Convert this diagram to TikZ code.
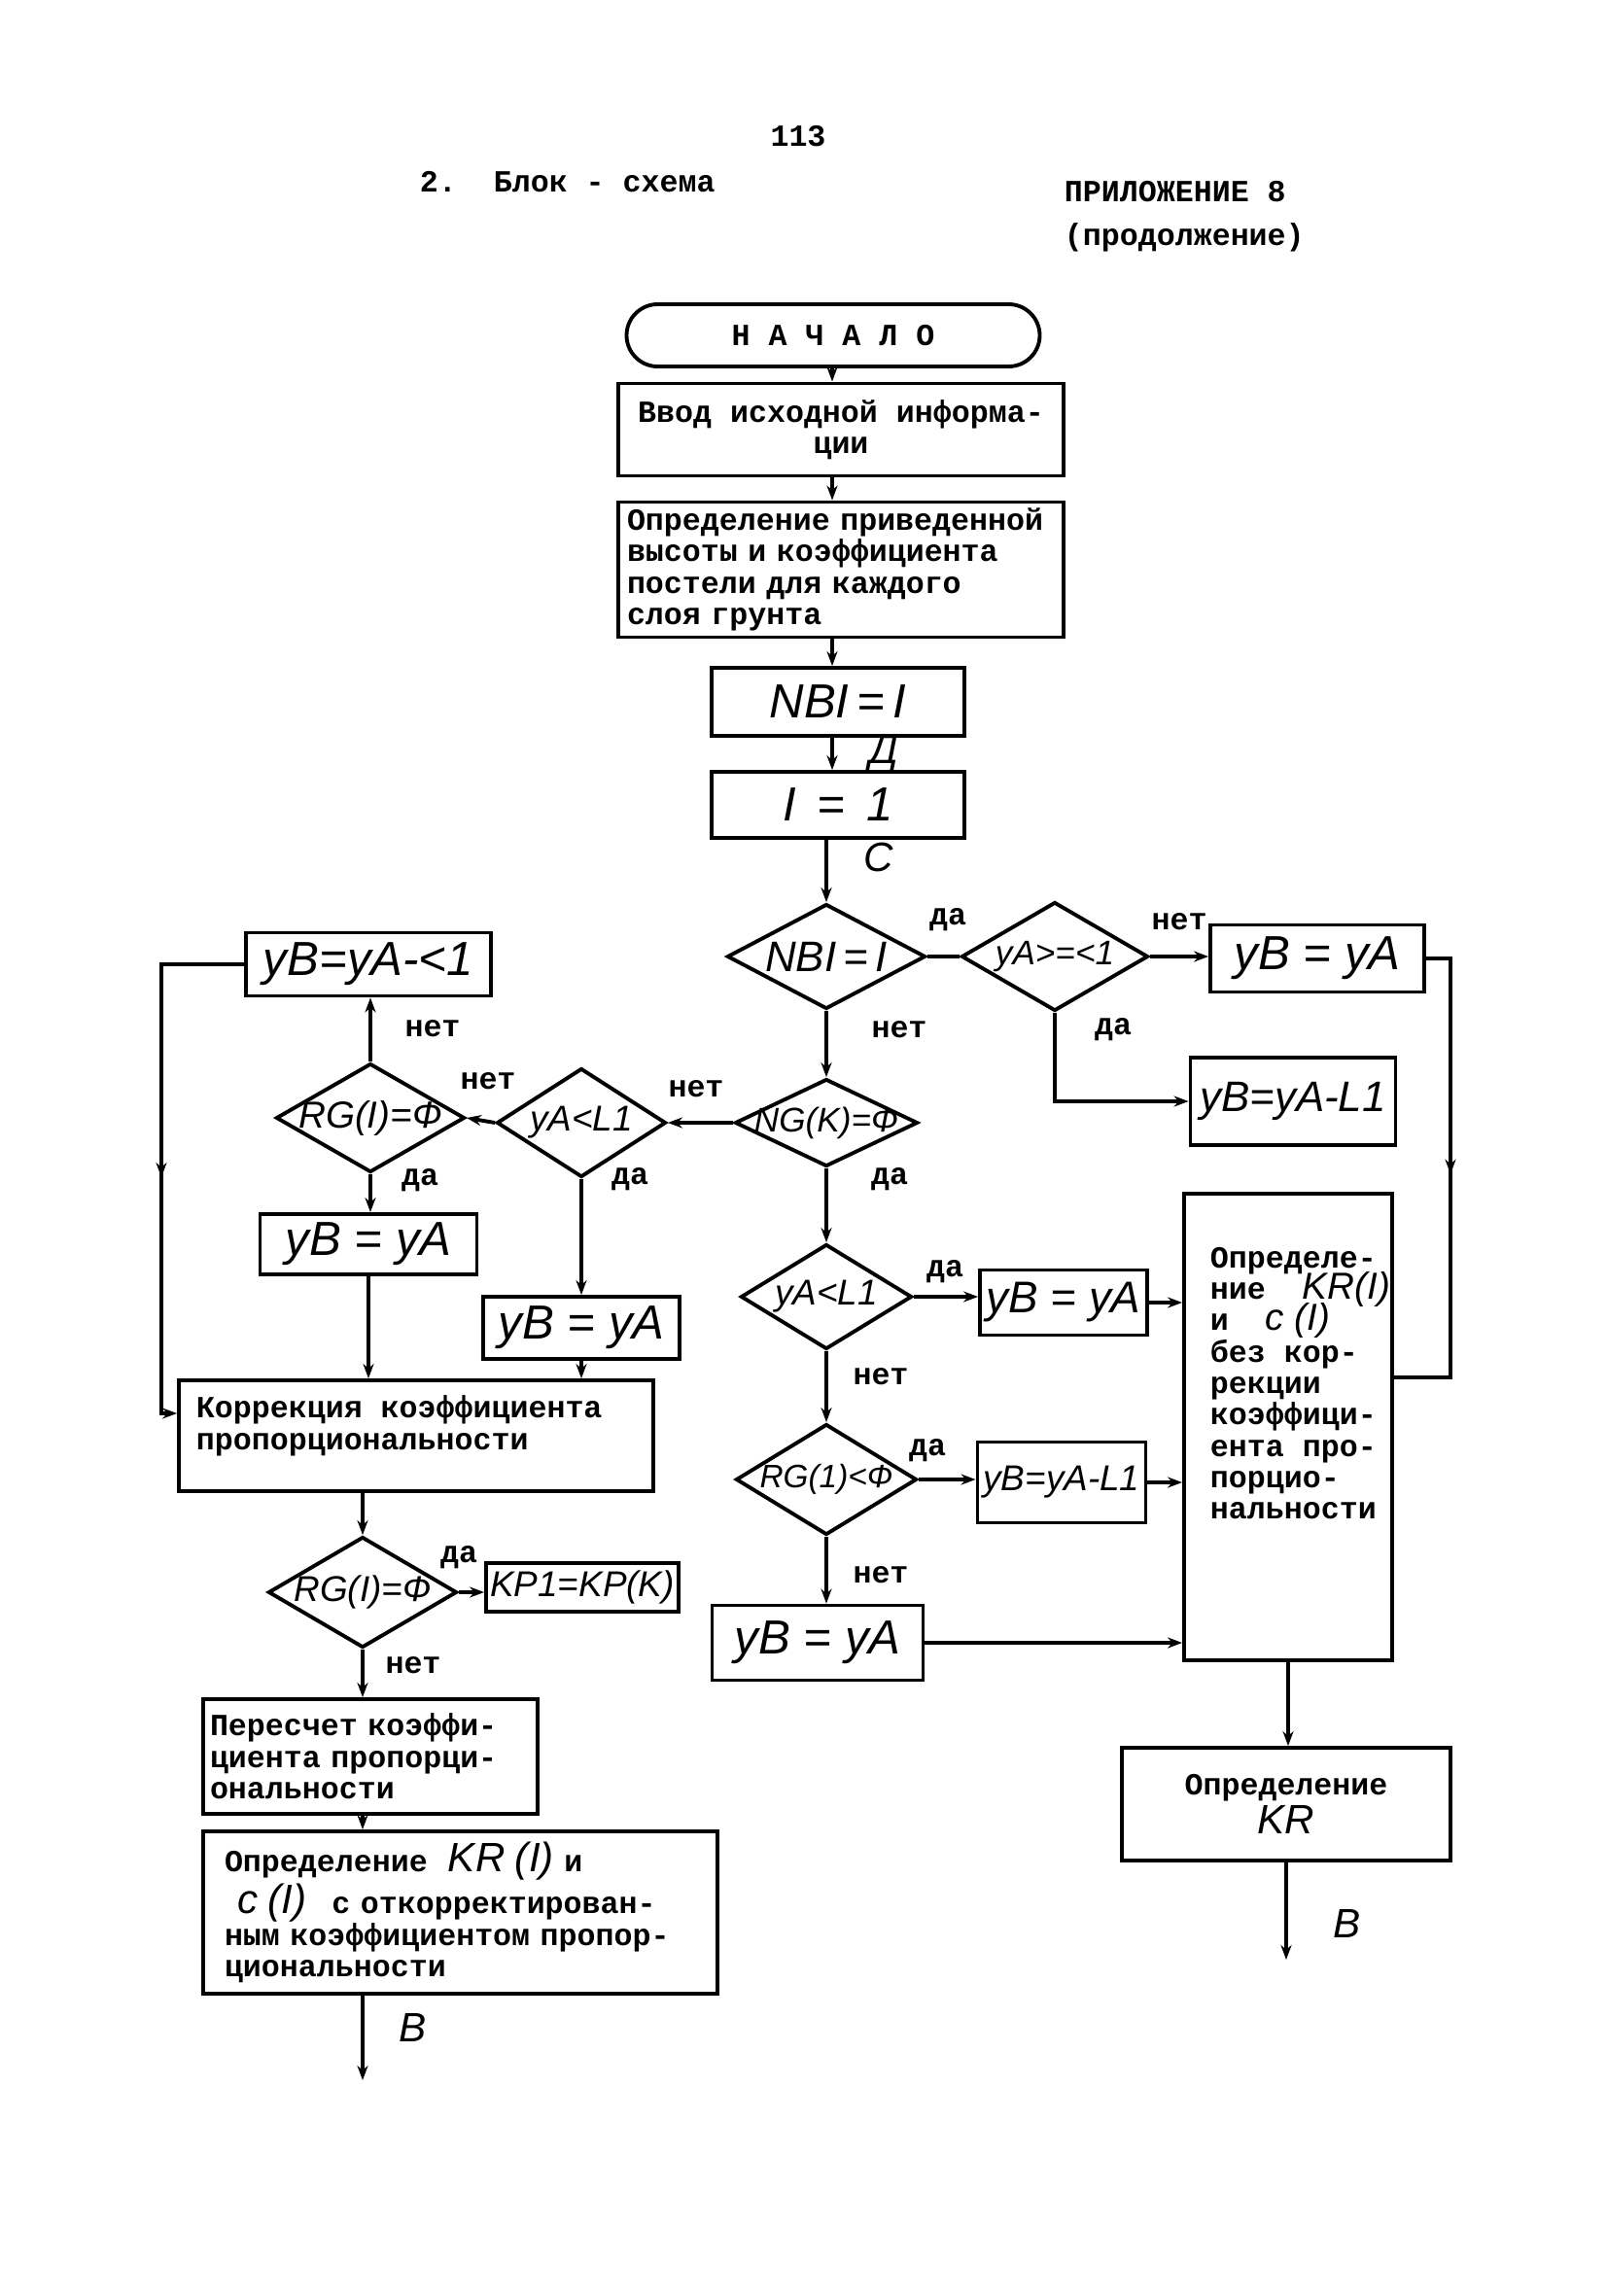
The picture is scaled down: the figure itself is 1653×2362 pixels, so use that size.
\documentclass[tikz,border=0pt]{standalone}
\usepackage{fontspec}
\setmainfont{Liberation Mono}
\newfontfamily\hwfont{Liberation Sans}
\usetikzlibrary{arrows.meta,shapes.geometric,decorations.markings}
\newcommand\hwt[2][11]{{\hwfont\mdseries\itshape\fontsize{#1}{9}\selectfont #2}}
\tikzset{
  tw/.style={font=\bfseries\fontsize{9}{9.2}\selectfont},
  hw/.style={font=\hwfont\itshape\fontsize{#1}{#1}\selectfont},
  box/.style={draw, rectangle, inner sep=0pt},
  dia/.style={draw, diamond, inner sep=0pt},
  arr/.style={-{Stealth[length=1.5mm,width=1.1mm]}},
  midarr/.style={postaction={decorate}, decoration={markings, mark=at position #1 with {\arrow{Stealth[length=1.5mm,width=1.1mm]}}}},
  lbl/.style={font=\bfseries\fontsize{9}{9}\selectfont, inner sep=0pt},
  txt/.style={tw, inner sep=0pt, align=left},
}
\begin{document}
\lineskiplimit=-20pt\relax
\begin{tikzpicture}[x=0.1mm, y=-0.1mm, line width=1.1pt]
\useasboundingbox (0,0) rectangle (1653,2362);

% header
\node[tw] (pg) at (821,140) {113};
\node[tw, anchor=west, inner sep=0pt] (ttl) at (430,187) {2.\ \ Блок - схема};
\node[tw, anchor=west, inner sep=0pt] (app) at (1093,197) {ПРИЛОЖЕНИЕ 8};
\node[tw, anchor=west, inner sep=0pt] (cont) at (1093,244) {(продолжение)};

\coordinate (col) at (856,300);

% top column
\node[draw, rounded corners=3.2mm, minimum width=42.5mm, minimum height=6.4mm, inner sep=0pt, tw] (start) at (857,345) {Н А Ч А Л О\hspace{4.4mm}};
\node[box, tw, minimum width=45.8mm, minimum height=9.5mm, align=center] (b1) at (865,442) {Ввод исходной информа-\\ции};
\node[box, tw, minimum width=45.8mm, minimum height=13.9mm, text width=44mm, align=left] (b2) at (865,586) {Определение приведенной\\высоты и коэффициента\\постели для каждого\\слоя грунта};
\node[box, hw=14, minimum width=26mm, minimum height=7mm] (nbi) at (862,722) {NBI\,=\,I};
\node[box, hw=14, minimum width=26mm, minimum height=6.8mm] (i1) at (862,828) {I\ \,=\ \,1};
\node[hw=12, inner sep=0pt] (lD) at (909,775) {Д};
\node[hw=12, inner sep=0pt] (lC) at (904,882) {С};

% diamonds and boxes, centre / right
\node[dia, minimum width=20.4mm, minimum height=10.8mm, label={[hw=12.5]center:NBI\,=\,I}] (d1) at (850,984) {};
\node[dia, minimum width=19.2mm, minimum height=11.2mm, label={[hw=10]center:yA>=<1}] (d2) at (1085,984) {};
\node[box, hw=14, minimum width=22mm, minimum height=6.9mm] (r1) at (1355,986) {yB = yA};
\node[box, hw=12.5, minimum width=21.1mm, minimum height=9mm] (r2) at (1330,1133) {yB=yA-L1};
\node[dia, minimum width=18.8mm, minimum height=9mm, label={[hw=10]center:NG(K)=Ф}] (d3) at (850,1155) {};
\node[dia, minimum width=17.4mm, minimum height=11.2mm, label={[hw=10.5]center:yA<L1}] (d4) at (598,1155) {};
\node[dia, minimum width=19.4mm, minimum height=11.2mm, label={[hw=11]center:RG(I)=Ф}] (d5) at (381,1150) {};
\node[box, hw=14, minimum width=25.2mm, minimum height=6.5mm] (r3) at (379,992) {yB=yA-<1};
\node[box, hw=14, minimum width=22.3mm, minimum height=6.2mm] (r4) at (379,1280) {yB = yA};
\node[box, hw=14, minimum width=20.2mm, minimum height=6.4mm] (r5) at (598,1366) {yB = yA};
\node[box, minimum width=48.8mm, minimum height=11.4mm] (korr) at (428,1477) {};
\node[txt, anchor=north west] (korrT) at (200,1434) {Коррекция коэффициента\\пропорциональности};
\node[dia, minimum width=19.4mm, minimum height=11.4mm, label={[hw=10.5]center:RG(I)=Ф}] (d6) at (373,1638) {};
\node[box, hw=10.5, minimum width=19.8mm, minimum height=5mm] (r6) at (599,1633) {KP1=KP(K)};
\node[box, tw, minimum width=34.4mm, minimum height=11.8mm, text width=33mm, align=left] (peres) at (381,1807) {Пересчет коэффи-\\циента пропорци-\\ональности};
\node[box, tw, minimum width=52.9mm, minimum height=16.7mm, text width=48.5mm, align=left] (opr1) at (473.5,1967.5) {Определение\ \ \hwt[12]{KR (I)}\ и\\\hspace*{1.3mm}\hwt[12]{c (I)}\hspace{2.6mm}с откорректирован-\\ным коэффициентом пропор-\\циональности};
\coordinate (e1) at (373,2140);
\node[hw=12, inner sep=0pt] (lB1) at (425,2086) {В};

\node[dia, minimum width=17.6mm, minimum height=10.8mm, label={[hw=10.5]center:yA<L1}] (d7) at (850,1334) {};
\node[box, hw=13, minimum width=17.2mm, minimum height=6.7mm] (r7) at (1094,1340) {yB = yA};
\node[dia, minimum width=18.6mm, minimum height=11.4mm, label={[hw=9.5]center:RG(1)<Ф}] (d8) at (850,1522) {};
\node[box, hw=10.5, minimum width=17.3mm, minimum height=8.3mm] (r8) at (1092,1525) {yB=yA-L1};
\node[box, hw=14, minimum width=21.7mm, minimum height=7.7mm] (r9) at (841,1690) {yB = yA};
\node[box, minimum width=21.4mm, minimum height=48mm] (big) at (1325,1468) {};
\node[txt, anchor=north west] (bigT) at (1243,1281) {Определе-\\ние \ \hwt{KR(I)}\\и \ \hwt{c (I)}\\без кор-\\рекции\\коэффици-\\ента про-\\порцио-\\нальности};
\node[box, tw, minimum width=33.8mm, minimum height=11.6mm, align=center] (oprKR) at (1323,1856) {Определение\\[2pt]\hwt[12]{KR}};
\coordinate (e2) at (1323,2016);
\node[hw=12, inner sep=0pt] (lB2) at (1386,1979) {В};

\coordinate (rl) at (1492,1417);
\coordinate (ll) at (166,1454);

% connectors
\draw[arr] (start.south -| col) -- (b1.north -| col);
\draw[arr] (b1.south -| col) -- (b2.north -| col);
\draw[arr] (b2.south -| col) -- (nbi.north -| col);
\draw[arr] (nbi.south -| col) -- (i1.north -| col);
\draw[arr] (i1.south -| d1) -- (d1.north);
\draw (d1.east) -- (d2.west);
\draw[arr] (d2.east) -- (r1.west |- d2.east);
\draw[arr] (d2.south) |- (r2.west);
\draw[midarr=0.48] (r1.east) -| (rl) -- (big.east |- rl);
\draw[arr] (d1.south) -- (d3.north);
\draw[arr] (d3.west) -- (d4.east);
\draw[arr] (d4.west) -- (d5.east);
\draw[arr] (d5.north) -- (r3.south -| d5.north);
\draw[arr, midarr=0.54] (r3.west) -| (ll) -- (korr.west |- ll);
\draw[arr] (d5.south) -- (r4.north -| d5.south);
\draw[arr] (r4.south) -- (korr.north -| r4.south);
\draw[arr] (d4.south) -- (r5.north);
\draw[arr] (r5.south) -- (korr.north -| r5.south);
\draw[arr] (korr.south -| d6) -- (d6.north);
\draw[arr] (d6.east) -- (r6.west |- d6.east);
\draw[arr] (d6.south) -- (peres.north -| d6.south);
\draw[arr] (peres.south -| d6) -- (opr1.north -| d6);
\draw[arr] (opr1.south -| e1) -- (e1);
\draw[arr] (d3.south) -- (d7.north);
\draw[arr] (d7.east) -- (r7.west |- d7.east);
\draw[arr] (r7.east) -- (big.west |- r7.east);
\draw[arr] (d7.south) -- (d8.north);
\draw[arr] (d8.east) -- (r8.west |- d8.east);
\draw[arr] (r8.east) -- (big.west |- r8.east);
\draw[arr] (d8.south) -- (r9.north -| d8.south);
\draw[arr] (r9.east) -- (big.west |- r9.east);
\draw[arr] (big.south) -- (oprKR.north -| big.south);
\draw[arr] (oprKR.south) -- (e2);

% branch labels
\node[lbl] (y1) at (975,946) {да};
\node[lbl] (n1) at (1213,948) {нет};
\node[lbl] (y2) at (1145,1059) {да};
\node[lbl] (n2) at (925,1059) {нет};
\node[lbl] (y3) at (915,1213) {да};
\node[lbl] (n3) at (716,1120) {нет};
\node[lbl] (n4) at (502,1112) {нет};
\node[lbl] (n5) at (445,1058) {нет};
\node[lbl] (y5) at (432,1214) {да};
\node[lbl] (y4) at (648,1213) {да};
\node[lbl] (y7) at (972,1308) {да};
\node[lbl] (n7) at (906,1416) {нет};
\node[lbl] (y8) at (954,1492) {да};
\node[lbl] (n8) at (906,1620) {нет};
\node[lbl] (y6) at (472,1602) {да};
\node[lbl] (n6) at (425,1713) {нет};
\end{tikzpicture}
\end{document}
